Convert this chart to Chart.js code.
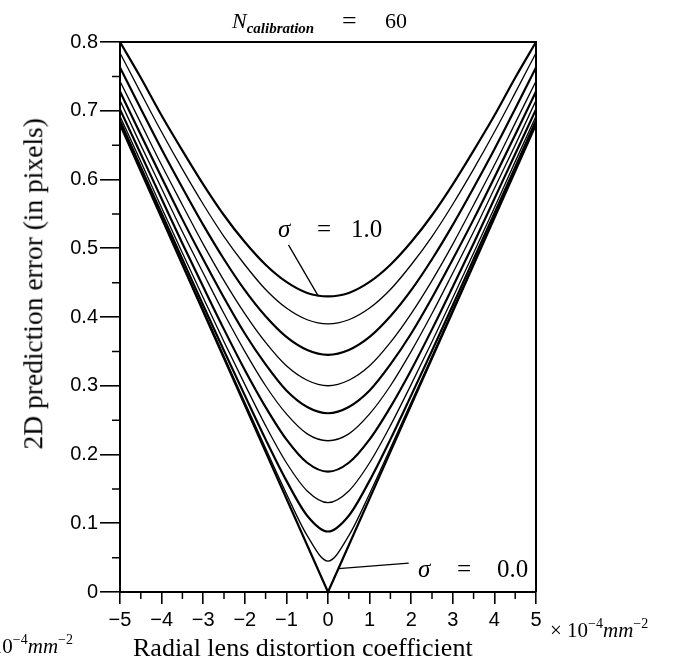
<!DOCTYPE html>
<html>
<head>
<meta charset="utf-8">
<title>2D prediction error vs radial lens distortion</title>
<script src="https://cdn.jsdelivr.net/npm/chart.js@4.4.0/dist/chart.umd.min.js"></script>
<style>
  body { margin: 0; background: #fff; }
  #wrap { position: relative; width: 677px; height: 669px; overflow: hidden; }
  #chart { display: block; }
  .txt { position: absolute; font-family: "Liberation Serif", "DejaVu Serif", serif; color: #000; line-height: 1; white-space: nowrap; }
  .sup { font-size: 14px; position: relative; top: -9px; }
  .sig span { display: inline-block; }
</style>
</head>
<body>
<div id="wrap">
  <canvas id="chart" width="677" height="669"></canvas>

  <!-- title -->
  <div class="txt" style="left:232px; top:10px; font-size:22px;">
    <i>N</i><i style="font-size:15px; font-weight:bold; position:relative; top:5px;">calibration</i>
  </div>
  <div class="txt" style="left:342px; top:8px; font-size:26px;">=</div>
  <div class="txt" style="left:385px; top:10px; font-size:22px;">60</div>

  <!-- sigma annotations -->
  <div class="txt sig" style="left:278px; top:216px; font-size:25px;">
    <span style="width:39px;"><i>σ</i></span><span style="width:34px;">=</span><span>1.0</span>
  </div>
  <div class="txt sig" style="left:418px; top:556px; font-size:25px;">
    <span style="width:39px;"><i>σ</i></span><span style="width:40px;">=</span><span>0.0</span>
  </div>

  <!-- axis titles -->
  <div class="txt" style="left:-167px; top:270px; width:400px; text-align:center; font-size:27.5px; transform:rotate(-90deg);">2D prediction error (in pixels)</div>
  <div class="txt" style="left:133px; top:635px; font-size:26px;">Radial lens distortion coefficient</div>

  <!-- units -->
  <div class="txt" style="left:550px; top:620px; font-size:21px;">× 10<span class="sup">−4</span><i>mm</i><span class="sup">−2</span></div>
  <div class="txt" style="right:604px; top:636px; font-size:21px;">× 10<span class="sup">−4</span><i>mm</i><span class="sup">−2</span></div>
</div>

<script>
// sample positions along the distortion axis (x 10^-4 mm^-2)
const xValues = [-5, -4.5, -4, -3.5, -3, -2.5, -2, -1.5, -1, -0.5, 0, 0.5, 1, 1.5, 2, 2.5, 3, 3.5, 4, 4.5, 5];

const sigmaLevels = ['0.0', '0.1', '0.2', '0.3', '0.4', '0.5', '0.6', '0.7', '0.8', '0.9', '1.0'];

// prediction error (pixels) for each noise level
const err00 = [0.680, 0.612, 0.544, 0.476, 0.408, 0.340, 0.272, 0.204, 0.136, 0.068, 0.000, 0.068, 0.136, 0.204, 0.272, 0.340, 0.408, 0.476, 0.544, 0.612, 0.680];
const err01 = [0.682, 0.614, 0.546, 0.478, 0.411, 0.343, 0.276, 0.209, 0.143, 0.082, 0.045, 0.082, 0.143, 0.209, 0.276, 0.343, 0.411, 0.478, 0.546, 0.614, 0.682];
const err02 = [0.686, 0.618, 0.551, 0.484, 0.417, 0.351, 0.286, 0.222, 0.162, 0.111, 0.088, 0.111, 0.162, 0.222, 0.286, 0.351, 0.417, 0.484, 0.551, 0.618, 0.686];
const err03 = [0.692, 0.626, 0.559, 0.493, 0.428, 0.364, 0.302, 0.242, 0.188, 0.147, 0.130, 0.147, 0.188, 0.242, 0.302, 0.364, 0.428, 0.493, 0.559, 0.626, 0.692];
const err04 = [0.702, 0.637, 0.572, 0.507, 0.444, 0.382, 0.323, 0.269, 0.222, 0.188, 0.175, 0.188, 0.222, 0.269, 0.323, 0.382, 0.444, 0.507, 0.572, 0.637, 0.702];
const err05 = [0.715, 0.650, 0.587, 0.524, 0.464, 0.405, 0.350, 0.300, 0.259, 0.230, 0.220, 0.230, 0.259, 0.300, 0.350, 0.405, 0.464, 0.524, 0.587, 0.650, 0.715];
const err06 = [0.728, 0.665, 0.603, 0.542, 0.484, 0.428, 0.376, 0.331, 0.293, 0.269, 0.260, 0.269, 0.293, 0.331, 0.376, 0.428, 0.484, 0.542, 0.603, 0.665, 0.728];
const err07 = [0.743, 0.682, 0.621, 0.563, 0.506, 0.453, 0.405, 0.363, 0.329, 0.308, 0.300, 0.308, 0.329, 0.363, 0.405, 0.453, 0.506, 0.563, 0.621, 0.682, 0.743];
const err08 = [0.763, 0.703, 0.644, 0.588, 0.534, 0.484, 0.439, 0.401, 0.371, 0.352, 0.345, 0.352, 0.371, 0.401, 0.439, 0.484, 0.534, 0.588, 0.644, 0.703, 0.763];
const err09 = [0.784, 0.726, 0.669, 0.615, 0.564, 0.517, 0.476, 0.440, 0.413, 0.396, 0.390, 0.396, 0.413, 0.440, 0.476, 0.517, 0.564, 0.615, 0.669, 0.726, 0.784];
const err10 = [0.800, 0.748, 0.693, 0.642, 0.593, 0.548, 0.509, 0.476, 0.451, 0.435, 0.430, 0.435, 0.451, 0.476, 0.509, 0.548, 0.593, 0.642, 0.693, 0.748, 0.800];

const allSeries = [err00, err01, err02, err03, err04, err05, err06, err07, err08, err09, err10];

// minor tick positions
const xMinorTicks = [-4.5, -3.5, -2.5, -1.5, -0.5, 0.5, 1.5, 2.5, 3.5, 4.5];
const yMinorTicks = [0.05, 0.15, 0.25, 0.35, 0.45, 0.55, 0.65, 0.75];

// leader lines for the sigma labels, in data coordinates
const leaders = [
    { from: [-0.95, 0.505], to: [-0.23, 0.430] },
    { from: [1.94, 0.042], to: [0.25, 0.034] }
];

const datasets = allSeries.map((vals, i) => ({
    label: 'σ = ' + sigmaLevels[i],
    data: xValues.map((x, j) => ({ x: x, y: vals[j] })),
    borderColor: '#000',
    borderWidth: i % 2 === 0 ? 2.2 : 1.3,
    pointRadius: 0,
    tension: i === 0 ? 0 : 0.4,
    cubicInterpolationMode: i === 0 ? 'default' : 'monotone',
    clip: false
}));

// frame, minor ticks and annotation leaders
const framePlugin = {
    id: 'frame',
    afterDraw(chart) {
        const { ctx, chartArea: a, scales: { x, y } } = chart;
        ctx.save();
        ctx.strokeStyle = '#000';
        ctx.lineWidth = 2;
        ctx.beginPath();
        ctx.moveTo(a.left, a.top);
        ctx.lineTo(a.right, a.top);
        ctx.lineTo(a.right, a.bottom);
        ctx.stroke();

        ctx.lineWidth = 1.5;
        ctx.beginPath();
        yMinorTicks.forEach(v => {
            const py = y.getPixelForValue(v);
            ctx.moveTo(a.left - 8, py);
            ctx.lineTo(a.left, py);
        });
        xMinorTicks.forEach(v => {
            const px = x.getPixelForValue(v);
            ctx.moveTo(px, a.bottom);
            ctx.lineTo(px, a.bottom + 7);
        });
        ctx.stroke();

        ctx.lineWidth = 1.3;
        ctx.beginPath();
        leaders.forEach(l => {
            ctx.moveTo(x.getPixelForValue(l.from[0]), y.getPixelForValue(l.from[1]));
            ctx.lineTo(x.getPixelForValue(l.to[0]), y.getPixelForValue(l.to[1]));
        });
        ctx.stroke();
        ctx.restore();
    }
};

const tickFont = { family: '"Liberation Sans", Arial, sans-serif', size: 20 };

new Chart(document.getElementById('chart'), {
    type: 'line',
    data: { datasets: datasets },
    options: {
        responsive: false,
        animation: false,
        devicePixelRatio: 1,
        layout: { padding: { left: 0, top: 42, right: 141, bottom: 0 } },
        plugins: {
            legend: { display: false },
            tooltip: { enabled: false }
        },
        scales: {
            x: {
                type: 'linear',
                min: -5,
                max: 5,
                afterFit: scale => { scale.height = 77; },
                ticks: {
                    stepSize: 1,
                    color: '#000',
                    font: tickFont,
                    padding: 4,
                    maxRotation: 0,
                    callback: v => v < 0 ? '−' + (-v) : String(v)
                },
                grid: {
                    drawOnChartArea: false,
                    drawTicks: true,
                    tickLength: 12,
                    color: '#000',
                    lineWidth: 1.6
                },
                border: { display: true, color: '#000', width: 2 }
            },
            y: {
                type: 'linear',
                min: 0,
                max: 0.8,
                afterFit: scale => { scale.width = 120; },
                ticks: {
                    stepSize: 0.1,
                    color: '#000',
                    font: tickFont,
                    padding: 2,
                    callback: v => v === 0 ? '0' : v.toFixed(1)
                },
                grid: {
                    drawOnChartArea: false,
                    drawTicks: true,
                    tickLength: 20,
                    color: '#000',
                    lineWidth: 1.6
                },
                border: { display: true, color: '#000', width: 2 }
            }
        }
    },
    plugins: [framePlugin]
});
</script>
</body>
</html>
